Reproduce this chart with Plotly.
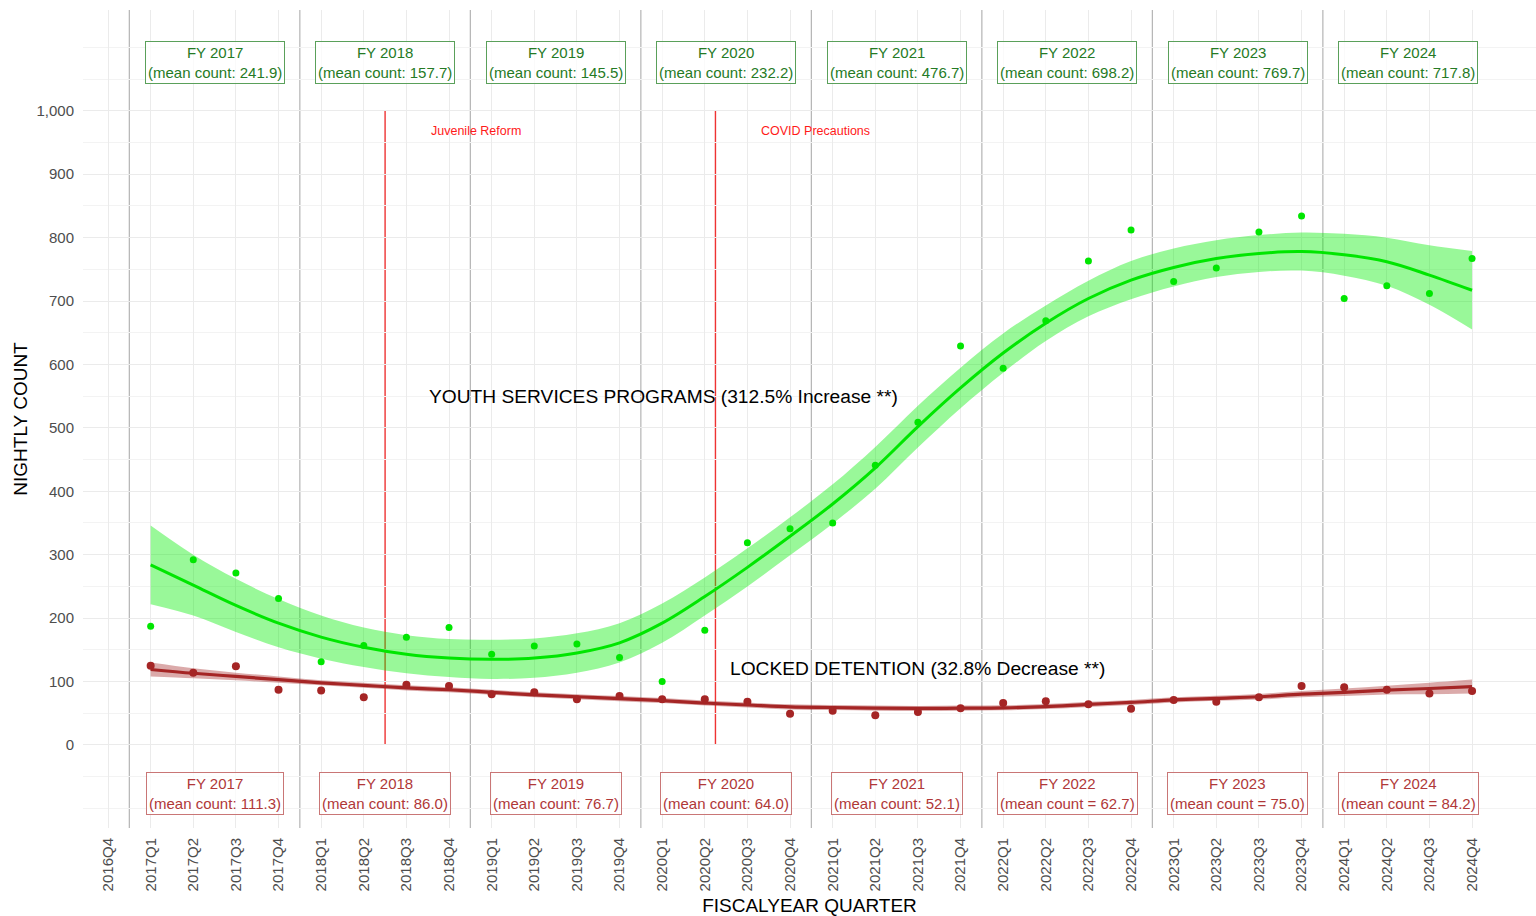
import plotly.graph_objects as go

# ---------------- data ----------------
quarters = ["2016Q4",
            "2017Q1", "2017Q2", "2017Q3", "2017Q4",
            "2018Q1", "2018Q2", "2018Q3", "2018Q4",
            "2019Q1", "2019Q2", "2019Q3", "2019Q4",
            "2020Q1", "2020Q2", "2020Q3", "2020Q4",
            "2021Q1", "2021Q2", "2021Q3", "2021Q4",
            "2022Q1", "2022Q2", "2022Q3", "2022Q4",
            "2023Q1", "2023Q2", "2023Q3", "2023Q4",
            "2024Q1", "2024Q2", "2024Q3", "2024Q4"]
data_quarters = quarters[1:]

youth_counts = [187, 292, 271, 231,
                131, 157, 170, 185,
                143, 156, 159, 138,
                100, 181, 319, 341,
                350, 441, 509, 629,
                594, 669, 763, 812,
                731, 752, 809, 834,
                704, 724, 712, 767]
youth_trend = [284, 252, 220, 192,
               170, 154, 143, 137,
               135, 137, 145, 161,
               192, 234, 280, 329,
               380, 437, 502, 563,
               618, 665, 704, 733,
               753, 767, 775, 778,
               773, 762, 741, 717]
youth_low = [222, 204, 178, 154,
             136, 123, 113, 107,
             104, 106, 114, 130,
             161, 204, 250, 299,
             349, 404, 469, 531,
             587, 637, 676, 703,
             723, 738, 746, 748,
             740, 724, 694, 655]
youth_high = [346, 300, 262, 230,
              204, 185, 173, 167,
              166, 168, 176, 192,
              223, 264, 310, 359,
              411, 470, 535, 595,
              649, 693, 732, 763,
              783, 796, 804, 808,
              806, 800, 788, 779]

locked_counts = [125, 114, 124, 87,
                 86, 75, 95, 93,
                 80, 83, 72, 77,
                 72, 72, 68, 49,
                 54, 47, 52, 58,
                 66, 69, 64, 57,
                 71, 68, 75, 93,
                 91, 87, 81, 85]
locked_trend = [119, 113, 108, 103,
                98, 94, 90, 87,
                83, 79, 76, 73,
                70, 66, 63, 60,
                59, 58, 57.5, 58,
                58.5, 60.5, 64, 67,
                71, 73.5, 76, 80,
                83, 86.5, 89, 92]
locked_low = [108, 105, 102, 98,
              94, 90, 86, 83,
              79, 75, 72, 69,
              66, 62, 59, 56,
              55, 54, 53.5, 54,
              54.5, 56.5, 60, 63,
              67, 69.5, 71.5, 75,
              77, 79.5, 80, 81]
locked_high = [130, 121, 114, 108,
               102, 98, 94, 91,
               87, 83, 80, 77,
               74, 70, 67, 64,
               63, 62, 61.5, 62,
               62.5, 64.5, 68, 71,
               75, 77.5, 80.5, 85,
               89, 93.5, 98, 103]

fiscal_years = ["2017", "2018", "2019", "2020", "2021", "2022", "2023", "2024"]
youth_mean_labels = ["(mean count: 241.9)", "(mean count: 157.7)", "(mean count: 145.5)",
                     "(mean count: 232.2)", "(mean count: 476.7)", "(mean count: 698.2)",
                     "(mean count: 769.7)", "(mean count: 717.8)"]
locked_mean_labels = ["(mean count: 111.3)", "(mean count: 86.0)", "(mean count: 76.7)",
                      "(mean count: 64.0)", "(mean count: 52.1)", "(mean count = 62.7)",
                      "(mean count = 75.0)", "(mean count = 84.2)"]

event_labels = ["Juvenile Reform", "COVID Precautions"]
event_after_quarter = ["2018Q2", "2020Q2"]
event_offset = [0.5, 0.25]

y_ticks = [0, 100, 200, 300, 400, 500, 600, 700, 800, 900, 1000]
y_ticktext = ["0", "100", "200", "300", "400", "500", "600", "700", "800", "900", "1,000"]

youth_label = "YOUTH SERVICES PROGRAMS (312.5% Increase **)"
locked_label = "LOCKED DETENTION (32.8% Decrease **)"

# ---------------- styling ----------------
FONT = "Liberation Sans, Arial, sans-serif"
GREEN = "#00e600"
GREEN_BAND = "rgba(0,238,0,0.40)"
RED = "#a52525"
RED_BAND = "rgba(165,42,42,0.40)"

x_pos = [quarters.index(q) for q in data_quarters]

fig = go.Figure()

# bands
fig.add_trace(go.Scatter(x=x_pos, y=youth_low, mode="lines", line=dict(width=0, shape="spline"),
                         hoverinfo="skip", showlegend=False))
fig.add_trace(go.Scatter(x=x_pos, y=youth_high, mode="lines", line=dict(width=0, shape="spline"),
                         fill="tonexty", fillcolor=GREEN_BAND, hoverinfo="skip", showlegend=False))
fig.add_trace(go.Scatter(x=x_pos, y=locked_low, mode="lines", line=dict(width=0, shape="spline"),
                         hoverinfo="skip", showlegend=False))
fig.add_trace(go.Scatter(x=x_pos, y=locked_high, mode="lines", line=dict(width=0, shape="spline"),
                         fill="tonexty", fillcolor=RED_BAND, hoverinfo="skip", showlegend=False))

# trend lines
fig.add_trace(go.Scatter(x=x_pos, y=youth_trend, mode="lines",
                         line=dict(color=GREEN, width=3, shape="spline"), showlegend=False))
fig.add_trace(go.Scatter(x=x_pos, y=locked_trend, mode="lines",
                         line=dict(color=RED, width=3.2, shape="spline"), showlegend=False))

# points
fig.add_trace(go.Scatter(x=x_pos, y=youth_counts, mode="markers",
                         marker=dict(color=GREEN, size=7), showlegend=False))
fig.add_trace(go.Scatter(x=x_pos, y=locked_counts, mode="markers",
                         marker=dict(color=RED, size=8), showlegend=False))

shapes = []
annotations = []

# fiscal year separators and labels
for i, fy in enumerate(fiscal_years):
    q1 = quarters.index(fy + "Q1")
    q4 = quarters.index(fy + "Q4")
    shapes.append(dict(type="line", xref="x", yref="paper", x0=q1 - 0.5, x1=q1 - 0.5,
                       y0=0, y1=1, line=dict(color="#b4b4b4", width=1.2), layer="below"))
    center = (q1 + q4) / 2
    annotations.append(dict(x=center, y=1076, xref="x", yref="y", showarrow=False,
                            text="FY " + fy + "<br>" + youth_mean_labels[i],
                            font=dict(family=FONT, size=15, color="#257a25"),
                            bordercolor="#5aa05a", borderwidth=1, borderpad=2,
                            bgcolor="rgba(255,255,255,0.75)", align="center"))
    annotations.append(dict(x=center, y=-76, xref="x", yref="y", showarrow=False,
                            text="FY " + fy + "<br>" + locked_mean_labels[i],
                            font=dict(family=FONT, size=15, color="#b03838"),
                            bordercolor="#c97676", borderwidth=1, borderpad=2,
                            bgcolor="rgba(255,255,255,0.75)", align="center"))

# events
for lab, q, off in zip(event_labels, event_after_quarter, event_offset):
    xe = quarters.index(q) + off
    shapes.append(dict(type="line", xref="x", yref="y", x0=xe, x1=xe, y0=0, y1=1000,
                       line=dict(color="#ee3333", width=1.4), layer="below"))
    annotations.append(dict(x=xe + 1.03, y=968, xref="x", yref="y", showarrow=False,
                            xanchor="left", text=lab,
                            font=dict(family=FONT, size=12.5, color="#ff1a1a")))

annotations.append(dict(x=13.02, y=549, xref="x", yref="y", showarrow=False, text=youth_label,
                        font=dict(family=FONT, size=19.2, color="black")))
annotations.append(dict(x=19.0, y=120, xref="x", yref="y", showarrow=False, text=locked_label,
                        font=dict(family=FONT, size=19.2, color="black")))

minor_vals = [-100, -50] + [50 + 100 * k for k in range(10)] + [1050, 1100]

fig.update_layout(
    width=1536, height=916,
    margin=dict(l=83, r=0, t=10, b=88),
    paper_bgcolor="white", plot_bgcolor="white",
    font=dict(family=FONT),
    shapes=shapes, annotations=annotations,
    xaxis=dict(range=[-0.587, 33.5], tickmode="array",
               tickvals=list(range(len(quarters))), ticktext=quarters,
               tickangle=-90, tickfont=dict(family=FONT, size=15, color="#4d4d4d"),
               showgrid=True, gridcolor="#ebebeb", gridwidth=1, zeroline=False,
               showline=False, ticks="", ticklabelstandoff=6,
               title=dict(text="FISCALYEAR QUARTER", font=dict(family=FONT, size=19, color="black"),
                          standoff=10)),
    yaxis=dict(range=[-131, 1159], tickmode="array", tickvals=y_ticks, ticktext=y_ticktext,
               tickfont=dict(family=FONT, size=15, color="#4d4d4d"),
               showgrid=True, gridcolor="#ebebeb", gridwidth=1, zeroline=False,
               showline=False, ticks="", ticklabelstandoff=8,
               minor=dict(tickmode="array", tickvals=minor_vals, showgrid=True,
                          gridcolor="#f3f3f3", gridwidth=1),
               title=dict(text="NIGHTLY COUNT", font=dict(family=FONT, size=19, color="black"),
                          standoff=3)),
)

fig.write_html("out.html", config={"displayModeBar": False},
               post_script="document.body.style.margin='0';")
